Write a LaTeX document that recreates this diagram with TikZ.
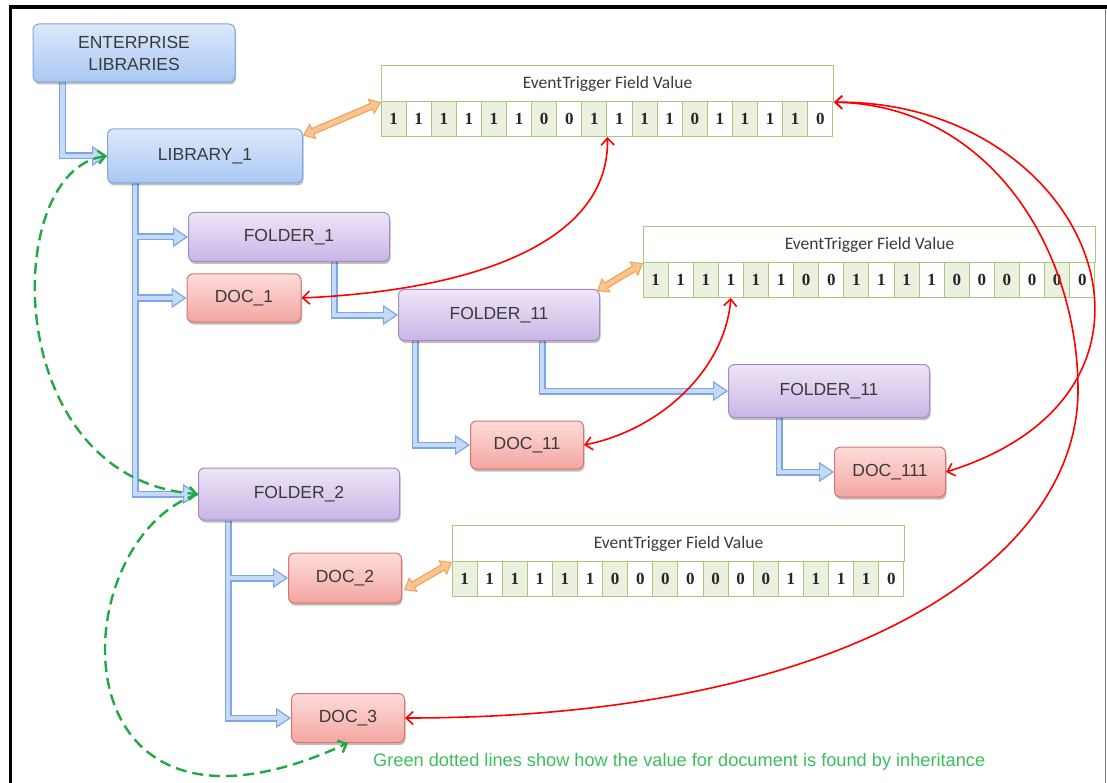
\documentclass[tikz,border=0pt]{standalone}
\usepackage{fontspec}
\setmainfont{Liberation Sans}
\newfontfamily\calibri{Carlito}
\newfontfamily\cambria{Liberation Serif}
\usetikzlibrary{arrows.meta,shadows}
\pgfdeclarelayer{background}
\pgfsetlayers{background,main}

\definecolor{blueedge}{HTML}{7EA6E0}
\definecolor{bluetop}{HTML}{DCE8FB}
\definecolor{bluebot}{HTML}{A9C8F3}
\definecolor{purpleedge}{HTML}{A28BC9}
\definecolor{purpletop}{HTML}{EEE6F7}
\definecolor{purplebot}{HTML}{C9B5E6}
\definecolor{rededge}{HTML}{D9736D}
\definecolor{redtop}{HTML}{FDDCDA}
\definecolor{redbot}{HTML}{F3A6A1}
\definecolor{tablegreen}{HTML}{A9C97E}
\definecolor{cellgreen}{HTML}{EBF1DE}
\definecolor{treeedge}{HTML}{7DA7E3}
\definecolor{treefill}{HTML}{C5DAF6}
\definecolor{orangeedge}{HTML}{F2A15A}
\definecolor{orangefill}{HTML}{FAC58F}
\definecolor{linkred}{HTML}{FF0000}
\definecolor{inhgreen}{HTML}{22A845}
\definecolor{notegreen}{HTML}{3DBE5E}
\definecolor{textgray}{HTML}{3A3A3A}

% field table: name, left, top, bits
\newcommand{\fieldtable}[4]{%
  \node[fieldhead, anchor=north west] (#1) at (#2,#3) {EventTrigger Field Value};
  \foreach \b [count=\i, evaluate=\i as \c using {int(mod(\i,2))}] in {#4}
    \node[bitcell, cellfill\c] (#1c\i) at ({#2+(\i-0.5)*25.1},{#3+54}) {\b};
}

\begin{document}
\begin{tikzpicture}[
        x=1pt, y=-1pt,
        >={Straight Barb[length=7pt,width=13pt]},
        box/.style={rectangle, rounded corners=6pt, draw, line width=1pt, text=textgray, font=\fontsize{17.5}{22}\selectfont, drop shadow={shadow xshift=1pt, shadow yshift=-2.5pt, opacity=0.25, fill=black}},
        libbox/.style={box, draw=blueedge, top color=bluetop, bottom color=bluebot},
        folderbox/.style={box, draw=purpleedge, top color=purpletop, bottom color=purplebot, minimum width=201pt, minimum height=51pt},
        docbox/.style={box, draw=rededge, top color=redtop, bottom color=redbot, minimum width=113pt, minimum height=49pt},
        fieldhead/.style={rectangle, draw=tablegreen, fill=white, line width=1.2pt, minimum width=451.8pt, minimum height=36pt, inner sep=0pt, font=\calibri\fontsize{17.5}{19}\selectfont, text=textgray},
        bitcell/.style={rectangle, draw=tablegreen, line width=1pt, minimum width=25.1pt, minimum height=35pt, inner sep=0pt, font=\cambria\bfseries\fontsize{17}{18}\selectfont, text=black!85},
        cellfill0/.style={fill=white},
        cellfill1/.style={fill=cellgreen},
        treeout/.style={line width=7pt, draw=treeedge, -{Triangle[length=15pt, width=20pt, fill=treefill, line width=1.2pt]}},
        treein/.style={line width=4.4pt, draw=treefill, shorten >=13pt},
        orangeout/.style={line width=7pt, draw=orangeedge, {Triangle[length=11pt, width=17pt, fill=orangefill, line width=1pt]}-{Triangle[length=11pt, width=17pt, fill=orangefill, line width=1pt]}},
        orangein/.style={line width=4.4pt, draw=orangefill, shorten >=9pt, shorten <=9pt},
        redlink/.style={line width=1.6pt, draw=linkred, <->},
        inherit/.style={line width=2.4pt, draw=inhgreen, dash pattern=on 11pt off 6pt},
        note/.style={text=notegreen, font=\fontsize{18.2}{21}\selectfont, inner sep=0pt}
    ]
        \useasboundingbox (0,0) rectangle (1107,783);

        % frame
        \fill[black] (9,5) rectangle (1107,9);
        \fill[black] (9,5) rectangle (12,790);
        \draw[gray, line width=1pt] (1105,9) -- (1105,790);

        % libraries
        \node[libbox, minimum width=202pt, minimum height=58pt, align=center] (enterprise) at (134,53) {ENTERPRISE\\LIBRARIES};
        \node[libbox, minimum width=195pt, minimum height=54pt] (lib) at (205,156) {LIBRARY\_1};

        % folders
        \node[folderbox, minimum height=49pt] (folder1) at (289,237) {FOLDER\_1};
        \node[folderbox] (folder11) at (499,315) {FOLDER\_11};
        \node[folderbox, minimum height=53pt] (folder11b) at (829,391) {FOLDER\_11};
        \node[folderbox, minimum height=52pt] (folder2) at (299,494) {FOLDER\_2};

        % documents
        \node[docbox, minimum width=114pt, minimum height=48pt] (doc1) at (244,298) {DOC\_1};
        \node[docbox, minimum height=48pt] (doc11) at (527,445) {DOC\_11};
        \node[docbox, minimum width=111pt, minimum height=50pt] (doc111) at (890,472) {DOC\_111};
        \node[docbox, minimum height=50pt] (doc2) at (345,578) {DOC\_2};
        \node[docbox] (doc3) at (348,718) {DOC\_3};

        % field values
        \fieldtable{field1}{381}{65}{1,1,1,1,1,1,0,0,1,1,1,1,0,1,1,1,1,0}
        \fieldtable{field2}{643}{226}{1,1,1,1,1,1,0,0,1,1,1,1,0,0,0,0,0,0}
        \fieldtable{field3}{452}{525}{1,1,1,1,1,1,0,0,0,0,0,0,0,1,1,1,1,0}

        % tree
        \begin{pgfonlayer}{background}
        \foreach \a/\dx/\b in {enterprise/30/lib, lib/28/folder1, lib/28/doc1, lib/28/folder2, folder1/146/folder11, folder11/17/doc11, folder11/144/folder11b, folder11b/51/doc111, folder2/30/doc2, folder2/30/doc3}
            \draw[treeout] ([xshift=\dx pt]\a.south west) |- (\b.west);
        \foreach \a/\dx/\b in {enterprise/30/lib, lib/28/folder1, lib/28/doc1, lib/28/folder2, folder1/146/folder11, folder11/17/doc11, folder11/144/folder11b, folder11b/51/doc111, folder2/30/doc2, folder2/30/doc3}
            \draw[treein] ([xshift=\dx pt]\a.south west) |- (\b.west);
        \end{pgfonlayer}

        % field links
        \draw[orangeout] ([yshift=-7pt]lib.north east) -- (field1.south west);
        \draw[orangein] ([yshift=-7pt]lib.north east) -- (field1.south west);
        \draw[orangeout] ([xshift=-3pt,yshift=-2pt]folder11.north east) -- (field2.south west);
        \draw[orangein] ([xshift=-3pt,yshift=-2pt]folder11.north east) -- (field2.south west);
        \draw[orangeout] ([xshift=2pt,yshift=-12pt]doc2.east) -- (field3.south west);
        \draw[orangein] ([xshift=2pt,yshift=-12pt]doc2.east) -- (field3.south west);

        % value lookups
        \draw[redlink] (doc1.east) .. controls (480,290) and (610,240) .. (field1c9.south east);
        \draw[redlink] (doc11.east) .. controls (660,430) and (725,370) .. (field2c4.south);
        \draw[redlink] (field1.south east) .. controls (1090,100) and (1210,390) .. (doc111.east);
        \draw[redlink] (field1.south east) .. controls (990,105) and (1078,250) .. (1078,390)
            .. controls (1078,560) and (850,718) .. (doc3.east);

        % inheritance
        \draw[inherit, <->] (lib.west) .. controls (0,170) and (0,480) .. (folder2.west);
        \draw[inherit, ->] (folder2.west) .. controls (60,540) and (50,880) .. (doc3.south);
        \node[note, anchor=west] (caption) at (373,762) {Green dotted lines show how the value for document is found by inheritance};
    \end{tikzpicture}
\end{document}
